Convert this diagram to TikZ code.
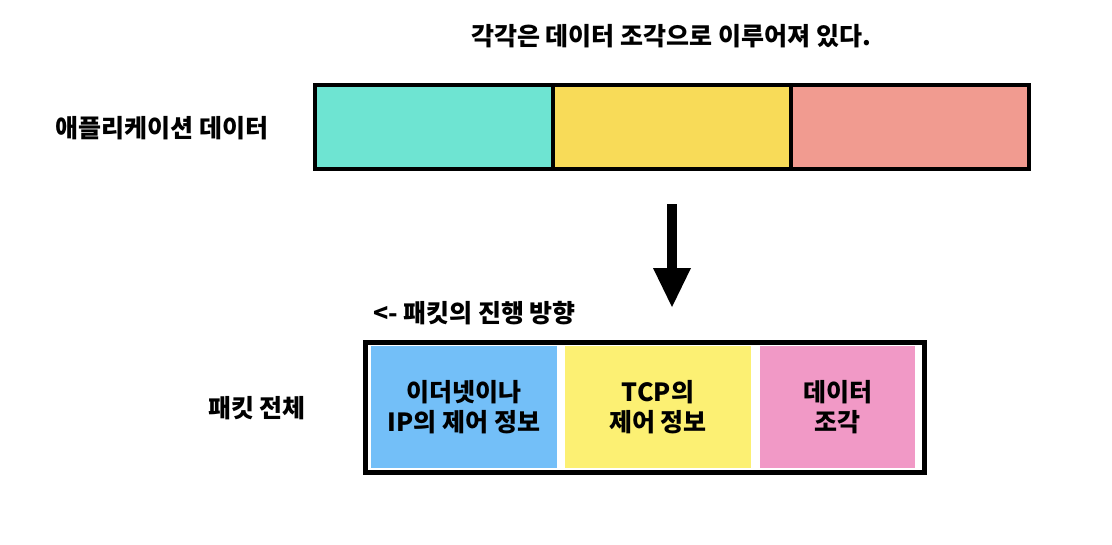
\documentclass[tikz,border=0pt]{standalone}
\usepackage{fontspec}
\setmainfont{Noto Sans CJK KR}[BoldFont={* Black}]
\usepackage[dvipsnames,rgb]{xcolor}
\usepackage{tikz}
\usetikzlibrary{positioning,shapes,arrows.meta}

\definecolor{pieceteal}{HTML}{6EE4D2}
\definecolor{pieceyellow}{HTML}{F8DB58}
\definecolor{piecesalmon}{HTML}{F19B90}
\definecolor{ipblue}{HTML}{73BFF8}
\definecolor{tcpyellow}{HTML}{FCF073}
\definecolor{datapink}{HTML}{F199C6}

\begin{document}
\begin{tikzpicture}[x=1pt, y=-1pt, font=\bfseries\fontsize{25}{30}\selectfont,
        piece/.style={draw, line width=4pt, inner sep=0, outer sep=0, minimum width=238pt, minimum height=84pt},
        header/.style={inner sep=0, outer sep=0, minimum width=186pt, minimum height=122pt, align=center},
        label/.style={inner sep=0, outer sep=0}]
        \useasboundingbox (0,0) rectangle (1112,544);
        \node[label] (caption) at (671,36) {각각은 데이터 조각으로 이루어져 있다.};
        \node[label] (applabel) at (162,128) {애플리케이션 데이터};
        \node[piece, fill=pieceteal] (piecea) at (434,127) {};
        \node[piece, fill=pieceyellow, right = 0pt of piecea] (pieceb) {};
        \node[piece, fill=piecesalmon, right = 0pt of pieceb] (piecec) {};
        
        \node[label, anchor=west] (direction) at (373,313) {<- 패킷의 진행 방향};
        \node[label] (packetlabel) at (257,408) {패킷 전체};
        \node[draw, line width=5pt, inner sep=0, outer sep=0, minimum width=559pt, minimum height=130pt] (packet) at (645,407.5) {};
        \node[header, fill=ipblue] (ipinfo) at (464,407) {이더넷이나\\IP의 제어 정보};
        \node[header, fill=tcpyellow, right = 8pt of ipinfo] (tcpinfo) {TCP의\\제어 정보};
        \node[header, fill=datapink, minimum width=155pt, right = 9pt of tcpinfo] (datapiece) {데이터\\조각};
        
        \path[draw, line width=10pt, -{Triangle[width=38pt, length=39pt, line width=0pt]}, shorten <=35pt, shorten >=35.5pt] (pieceb.south) -- (pieceb.south |- packet.north);
        \end{tikzpicture}
\end{document}
